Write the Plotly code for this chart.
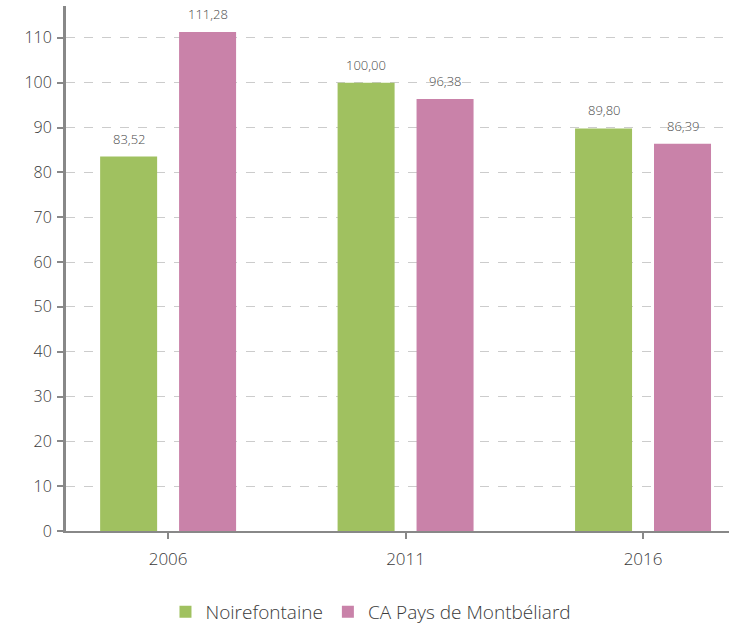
import plotly.graph_objects as go

years = ["2006", "2011", "2016"]
noirefontaine = [83.52, 100.00, 89.80]
ca_pays = [111.28, 96.38, 86.39]
series_names = ["Noirefontaine", "CA Pays de Montbéliard"]
colors = ["#A0C160", "#C982A9"]
y_ticks = [0, 10, 20, 30, 40, 50, 60, 70, 80, 90, 100, 110]

def fmt(v):
    return f"{v:.2f}".replace(".", ",")

fig = go.Figure()
for name, vals, col in zip(series_names, [noirefontaine, ca_pays], colors):
    fig.add_trace(go.Bar(x=years, y=vals, name=name, marker=dict(color=col, line=dict(width=0)),
                         hoverinfo="x+y"))

annotations = []
for k, vals in enumerate([noirefontaine, ca_pays]):
    for i, v in enumerate(vals):
        annotations.append(dict(x=i, y=v, xref="x", yref="y", text=fmt(v), showarrow=False,
                                xshift=(-39.5 if k == 0 else 39.5), yanchor="bottom", yshift=7,
                                font=dict(size=13, color="#4a4a4a", family="Open Sans", weight=300)))

fig.update_layout(
    width=729, height=624,
    margin=dict(l=66, r=0, t=6, b=93, autoexpand=False),
    paper_bgcolor="white", plot_bgcolor="white",
    font=dict(family="Open Sans", color="#3a3a3a", weight=300),
    barmode="group", bargap=0.335, bargroupgap=0.278,
    annotations=annotations,
    showlegend=True,
    legend=dict(orientation="h", x=0.46, xanchor="center", xref="paper", y=-0.118, yanchor="top",
                font=dict(size=19, color="#3a3a3a", weight=300), itemsizing="constant"),
    xaxis=dict(type="category", range=[-0.43, 2.362], showline=True, linecolor="#888888", linewidth=2,
               ticks="outside", ticklen=6, tickcolor="#888888", tickwidth=2, ticklabelstandoff=6,
               tickfont=dict(size=17, color="#3a3a3a", weight=300), showgrid=False, zeroline=False),
    yaxis=dict(range=[0, 117.1], tickvals=y_ticks, showline=True, linecolor="#888888", linewidth=3,
               ticks="outside", ticklen=6, tickcolor="#888888", tickwidth=2, ticklabelstandoff=2,
               tickfont=dict(size=16, color="#3a3a3a", weight=300),
               showgrid=True, gridcolor="#CCCCCC", griddash="dash", gridwidth=1, zeroline=False),
)

fig.write_html("out.html", post_script="document.body.style.margin='0px';",
               config={"displayModeBar": False})
